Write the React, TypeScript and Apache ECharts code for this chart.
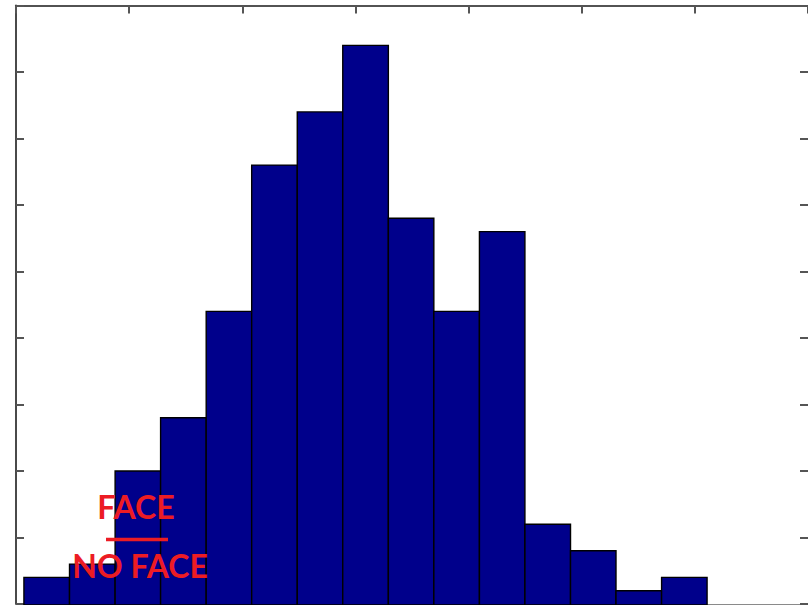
import React, { useEffect, useRef } from "react";
import * as echarts from "echarts";

// Histogram bin edges (x units) and counts per bin
const binEdges = [0.07, 0.473, 0.876, 1.278, 1.681, 2.083, 2.486, 2.888, 3.291, 3.693, 4.096, 4.498, 4.901, 5.303, 5.706, 6.108];
const counts = [2, 3, 10, 14, 22, 33, 37, 42, 29, 22, 28, 6, 4, 1, 2];

const xMin = 0;
const xMax = 7;
const xInterval = 1;
const yMin = 0;
const yMax = 45;
const yInterval = 5;

const labelTop = "FACE";
const labelBottom = "NO FACE";

export default function App() {
  const ref = useRef<HTMLDivElement>(null);

  useEffect(() => {
    if (!ref.current) return;
    const chart = echarts.init(ref.current, null, { renderer: "svg" });
    const data = counts.map((c, i) => [binEdges[i], binEdges[i + 1], c]);

    const axisLineGray = { show: true, onZero: false, lineStyle: { color: "#4a4a4a", width: 2 } };
    const tickStyle = { show: true, inside: true, length: 8, lineStyle: { color: "#555", width: 2 } };

    chart.setOption({
      animation: false,
      backgroundColor: "#ffffff",
      grid: { left: 16, right: -1, top: 5.5, bottom: 1, containLabel: false },
      xAxis: [
        {
          type: "value", min: xMin, max: xMax, interval: xInterval, position: "bottom",
          axisLine: { show: true, onZero: false, lineStyle: { color: "#8a8a8a", width: 1 } },
          axisTick: { show: false }, axisLabel: { show: false }, splitLine: { show: false },
        },
        {
          type: "value", min: xMin, max: xMax, interval: xInterval, position: "top",
          axisLine: { show: true, onZero: false, lineStyle: { color: "#1a1a1a", width: 1.6 } },
          axisTick: tickStyle, axisLabel: { show: false }, splitLine: { show: false },
        },
      ],
      yAxis: [
        {
          type: "value", min: yMin, max: yMax, interval: yInterval, position: "left",
          axisLine: axisLineGray, axisTick: tickStyle, axisLabel: { show: false }, splitLine: { show: false },
        },
        {
          type: "value", min: yMin, max: yMax, interval: yInterval, position: "right",
          axisLine: { show: false, onZero: false }, axisTick: tickStyle, axisLabel: { show: false }, splitLine: { show: false },
        },
      ],
      series: [
        {
          type: "custom",
          xAxisIndex: 0,
          yAxisIndex: 0,
          data,
          renderItem: (params: any, api: any) => {
            const p0 = api.coord([api.value(0), api.value(2)]);
            const p1 = api.coord([api.value(1), 0]);
            return {
              type: "rect",
              shape: { x: p0[0], y: p0[1], width: p1[0] - p0[0], height: p1[1] - p0[1] + 1 },
              style: { fill: "#00008b", stroke: "#000000", lineWidth: 1.4 },
            };
          },
        },
      ],
      graphic: [
        {
          type: "text", x: 136, y: 522, z: 100,
          style: {
            text: labelTop, fill: "#ec1c24", font: "bold 32px Lato, 'Open Sans', sans-serif",
            textAlign: "center", textVerticalAlign: "bottom",
          },
        },
        {
          type: "line", z: 100,
          shape: { x1: 106, y1: 539.5, x2: 168, y2: 539.5 },
          style: { stroke: "#ec1c24", lineWidth: 3.5 },
        },
        {
          type: "text", x: 140, y: 581, z: 100,
          style: {
            text: labelBottom, fill: "#ec1c24", font: "bold 32px Lato, 'Open Sans', sans-serif",
            textAlign: "center", textVerticalAlign: "bottom",
          },
        },
      ],
    });
    return () => chart.dispose();
  }, []);

  return (
    <div
      ref={ref}
      style={{ position: "fixed", left: 0, top: 0, width: 808, height: 605, background: "#fff" }}
    />
  );
}
